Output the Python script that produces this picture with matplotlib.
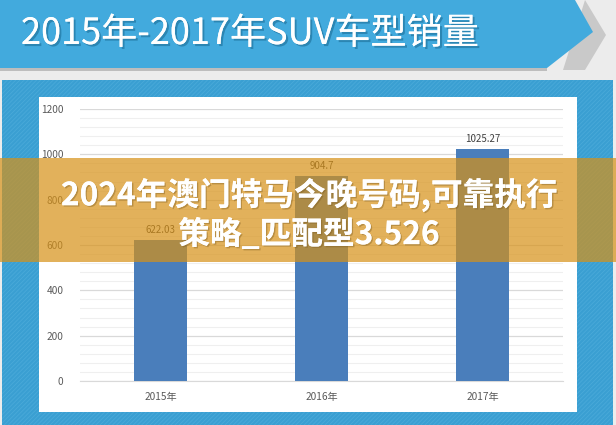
import matplotlib
matplotlib.use("Agg")
import matplotlib.pyplot as plt
from matplotlib.patches import Rectangle, Polygon
import matplotlib.patheffects as pe

plt.rcParams['font.family'] = ['Noto Sans CJK SC', 'DejaVu Sans']
plt.rcParams['hatch.linewidth'] = 0.6

title = "2015年-2017年SUV车型销量"
years = ["2015年", "2016年", "2017年"]
sales = [622.03, 904.7, 1025.27]
value_labels = ["622.03", "904.7", "1025.27"]
overlay_lines = ["2024年澳门特马今晚号码,可靠执行", "策略_匹配型3.526"]

W, H = 616, 425
fig = plt.figure(figsize=(W / 100, H / 100), dpi=100)
fig.patch.set_facecolor('#ececec')

# background decoration in pixel coords
bg = fig.add_axes([0, 0, 1, 1], zorder=0)
bg.set_xlim(0, W)
bg.set_ylim(H, 0)
bg.axis('off')
bg.add_patch(Polygon([(563, 70), (585, 0), (606, 35), (585, 70)], closed=True,
                     facecolor='#c9c9c9', edgecolor='none'))
bg.add_patch(Polygon([(0, 0), (575, 0), (593, 32), (547, 68), (0, 68)], closed=True,
                     facecolor='#42aadd', edgecolor='none'))
bg.add_patch(Rectangle((0, 68), 547, 3, facecolor='#bdbdbd', edgecolor='none'))
bg.text(21, 34, title, color='white', fontsize=26, va='center', ha='left',
        path_effects=[pe.withSimplePatchShadow(offset=(1.5, -1.5), shadow_rgbFace='#1d6e98', alpha=0.6),
                      pe.Normal()])
bg.add_patch(Rectangle((2, 80), 611, 345, facecolor='#3a9fd2', edgecolor='#4aaad9',
                       hatch='////////', lw=0))
bg.add_patch(Rectangle((39, 97), 538, 315, facecolor='white', edgecolor='none'))

# chart
ax = fig.add_axes([80 / W, (H - 381) / H, 483 / W, 272 / H], zorder=1)
ax.set_facecolor('none')
x = list(range(len(years)))
ax.bar(x, sales, width=0.33, color='#4a7ebb', zorder=3)
for xi, v, lab in zip(x, sales, value_labels):
    ax.text(xi, v + 22, lab, ha='center', va='bottom', fontsize=7, color='#404040')
ax.set_xlim(-0.5, 2.5)
ax.set_ylim(0, 1200)
ax.set_yticks(range(0, 1201, 200))
ax.set_yticks(range(0, 1201, 40), minor=True)
ax.set_xticks(x)
ax.set_xticklabels(years)
ax.grid(axis='y', which='major', color='#d9d9d9', lw=0.9, zorder=1)
ax.grid(axis='y', which='minor', color='#efefef', lw=0.8, zorder=0)
for s in ax.spines.values():
    s.set_visible(False)
ax.spines['bottom'].set_visible(True)
ax.spines['bottom'].set_color('#d9d9d9')
ax.tick_params(axis='both', which='both', length=0, labelsize=7.3, colors='#595959')
ax.tick_params(axis='y', pad=12)
ax.tick_params(axis='x', pad=8)

# orange overlay band on top
top = fig.add_axes([0, 0, 1, 1], zorder=5)
top.set_facecolor('none')
top.set_xlim(0, W)
top.set_ylim(H, 0)
top.axis('off')
top.add_patch(Rectangle((0, 158), W, 104, facecolor='#d79116', alpha=0.7, edgecolor='none'))
for i, line in enumerate(overlay_lines):
    top.text(309, 195 + 40 * i, line, color='white', fontsize=22.8, fontweight='bold',
             ha='center', va='center',
             path_effects=[pe.withSimplePatchShadow(offset=(1, -1), shadow_rgbFace='#7a5a20', alpha=0.4),
                           pe.Normal()])

fig.savefig('out.png', dpi=100, facecolor=fig.get_facecolor())
